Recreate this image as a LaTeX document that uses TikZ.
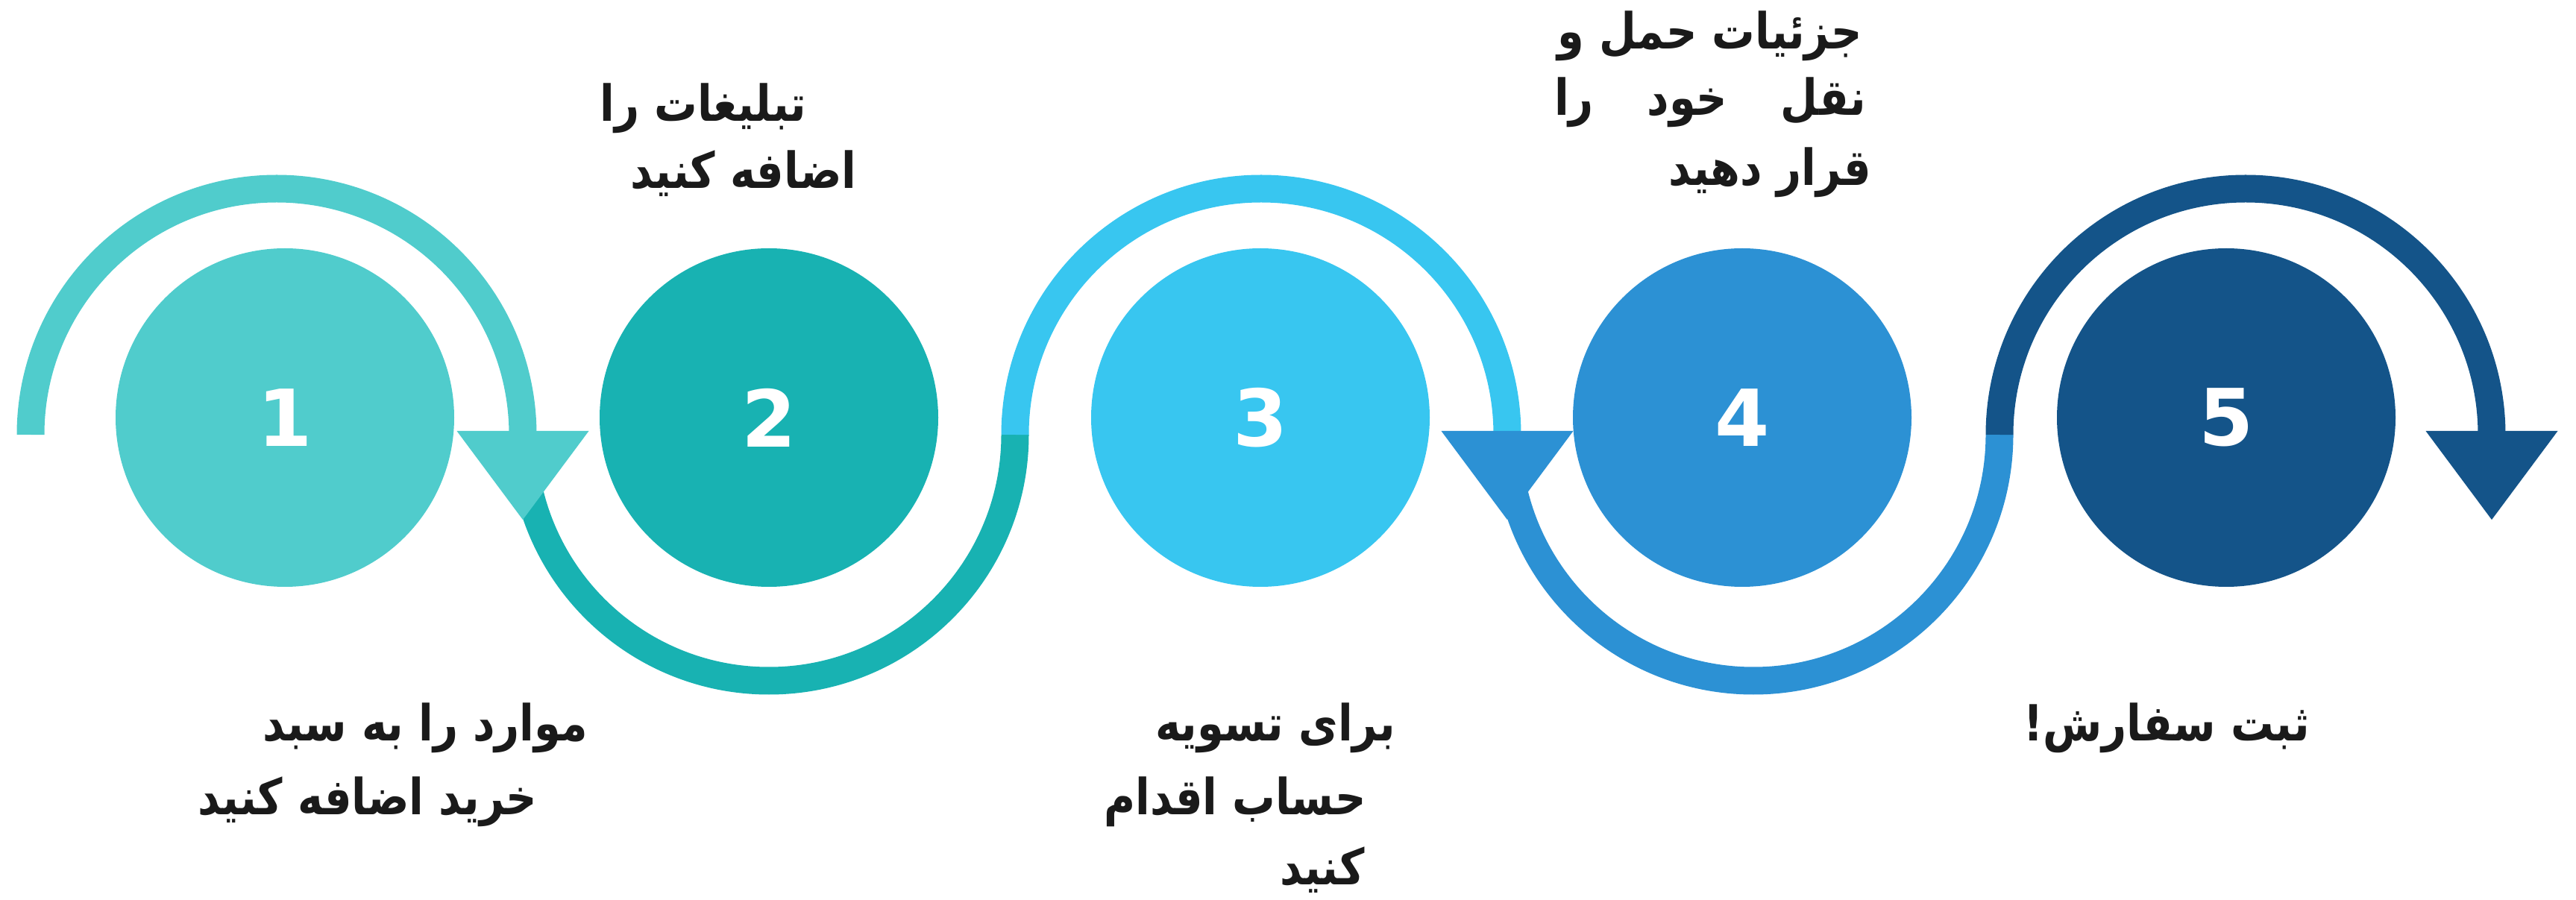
\documentclass[tikz,border=0pt]{standalone}
\usepackage{fontspec}
\newfontfamily\fafont[Script=Arabic, FakeStretch=0.86]{DejaVu Sans}
\newfontfamily\numfont{DejaVu Sans}
\TeXXeTstate=1
\newcommand{\fa}[1]{\beginR #1\endR}

\definecolor{stepA}{HTML}{50CCCC}
\definecolor{stepB}{HTML}{18B2B2}
\definecolor{stepC}{HTML}{38C6F0}
\definecolor{stepD}{HTML}{2C91D4}
\definecolor{stepE}{HTML}{145489}
\definecolor{ink}{HTML}{1A1A1A}

\tikzset{
	disc/.style={circle, minimum size=4.54cm, inner sep=0pt, text=white,
		font=\numfont\bfseries\fontsize{30}{36}\selectfont},
	band/.style={line width=0.37cm},
	lbl/.style={inner sep=0pt, text=ink, font=\fafont\bfseries\fontsize{19}{24}\selectfont},
}

\begin{document}
\begin{tikzpicture}
		\useasboundingbox (0,0) rectangle (34.54,12.06);
		\node[disc, fill=stepA] (s1) at (3.82,6.46) {1};
		\node[disc, fill=stepB] (s2) at (10.31,6.46) {2};
		\node[disc, fill=stepC] (s3) at (16.90,6.46) {3};
		\node[disc, fill=stepD] (s4) at (23.36,6.46) {4};
		\node[disc, fill=stepE] (s5) at (29.85,6.46) {5};
		\draw[band, stepA] (0.41,6.23) arc (180:0:3.30);
		\draw[band, stepB] (7.01,6.23) arc (180:360:3.30);
		\draw[band, stepC] (13.61,6.23) arc (180:0:3.30);
		\draw[band, stepD] (20.21,6.23) arc (180:360:3.30);
		\draw[band, stepE] (26.81,6.23) arc (180:0:3.30);
		\fill[stepA] (6.125,6.28) -- (7.895,6.28) -- (7.01,5.09) -- cycle;
		\fill[stepD] (19.325,6.28) -- (21.095,6.28) -- (20.21,5.09) -- cycle;
		\fill[stepE] (32.525,6.28) -- (34.295,6.28) -- (33.41,5.09) -- cycle;
		\node[lbl] (t1a) at (5.70,2.30) {\fa{موارد را به سبد}};
		\node[lbl] (t1b) at (4.93,1.31) {\fa{خرید اضافه کنید}};
		\node[lbl] (t2a) at (9.43,10.61) {\fa{تبلیغات را}};
		\node[lbl] (t2b) at (9.97,9.73) {\fa{اضافه کنید}};
		\node[lbl] (t3a) at (17.10,2.30) {\fa{برای تسویه}};
		\node[lbl] (t3b) at (16.56,1.31) {\fa{حساب اقدام}};
		\node[lbl] (t3c) at (17.73,0.39) {\fa{کنید}};
		\node[lbl] (t4a) at (22.93,11.58) {\fa{جزئیات حمل و}};
		\node[lbl] (t4b) at (22.93,10.69) {\hbox to 4.18cm{\fa{نقل\hfill خود\hfill را}}};
		\node[lbl] (t4c) at (23.73,9.75) {\fa{قرار دهید}};
		\node[lbl] (t5) at (29.05,2.30) {\fa{ثبت سفارش!}};
	\end{tikzpicture}
\end{document}
